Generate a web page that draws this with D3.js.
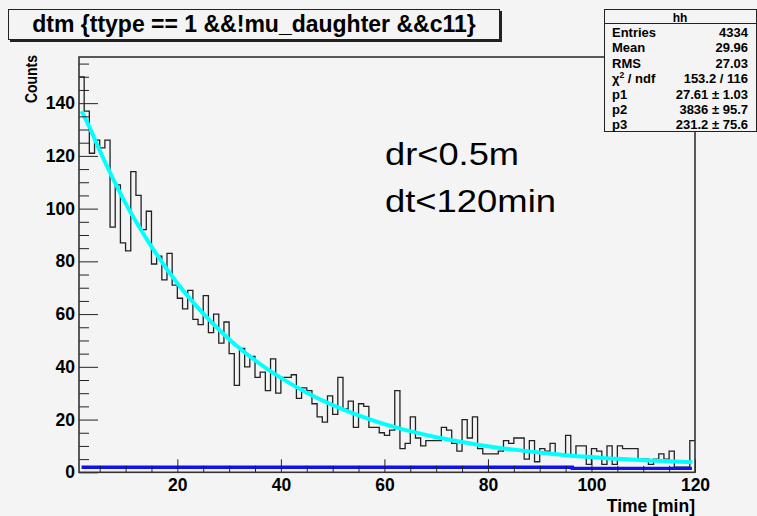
<!DOCTYPE html>
<html><head><meta charset="utf-8">
<script src="https://cdn.jsdelivr.net/npm/d3@7"></script>
<style>
html,body{margin:0;padding:0;background:#f4f4f4;}
svg{display:block;}
text{font-family:"Liberation Sans",Arial,Helvetica,sans-serif;}
</style></head><body>
<svg id="c" width="757" height="516"></svg>
<script>
// ---- data ----
const binLow = 1, binHigh = 120;
const counts = [
  150,137,121,126,123,126,93,109,87,84,114,105,92,99,79,82,73,83,71,
  66,62,69,58,56,67,53,60,49,57,45,33,47,40,44,36,38,31,
  43,30,36,36,37,28,32,31,26,21,19,29,22,36,24,27,17,26,25,17,17,15,14,16,31,9,11,21,13,10,12,12,12,17,16,11,8,20,13,
  21,9,7,7,7,8,12,11,13,13,5,12,4,9,8,11,7,7,14,6,10,10,3,9,8,3,10,3,10,9,9,9,5,5,3,5,7,5,8,2,2,2,12
];
const fitX = [1.5,3,5,7.5,10,12.5,15,20,25,30,35,40,45,50,55,60,65,70,75,80,85,90,95,100,105,110,115,119.5];
const fitY = [137,131,122,111.7,102,93.5,85.6,71.7,60.2,50.5,42.5,35.8,30.2,25.5,21.6,18.3,15.6,13.3,11.5,9.9,8.6,7.5,6.5,5.8,5.1,4.6,4.2,3.8];
const bgX = [1.5,96.3,96.3,119.4];
const bgY = [1.9,1.9,1.5,1.5];
const xMajor = [20,40,60,80,100,120];
const yMajor = [0,20,40,60,80,100,120,140];
const titleText = "dtm {ttype == 1 &&!mu_daughter &&c11}";
const statsName = "hh";
const statsLabels = ["Entries","Mean","RMS","χ2 / ndf","p1","p2","p3"];
const statsValues = ["4334","29.96","27.03","153.2 / 116","27.61 ± 1.03","3836 ± 95.7","231.2 ± 75.6"];
const xTitle = "Time [min]", yTitle = "Counts";
const notes = ["dr<0.5m","dt<120min"];

// ---- layout ----
const svg = d3.select("#c");
svg.append("rect").attr("width",757).attr("height",516).attr("fill","#f4f4f4");
const L=79, R=695, T=57, B=472.3;
const x = d3.scaleLinear().domain([binLow,binHigh]).range([L,R]);
const yMax = d3.max(counts)*1.05;
const y = d3.scaleLinear().domain([0,yMax]).range([B,T]);

svg.append("clipPath").attr("id","clip").append("rect")
  .attr("x",L).attr("y",T).attr("width",R-L).attr("height",B-T);

// histogram
const bw = (binHigh-binLow)/counts.length;
const pts = counts.map((c,i)=>[binLow+i*bw,c]);
pts.push([binHigh,counts[counts.length-1]]);
svg.append("path").datum(pts)
  .attr("d",d3.line().x(d=>x(d[0])).y(d=>y(d[1])).curve(d3.curveStepAfter))
  .attr("fill","none").attr("stroke","#222").attr("stroke-width",1.3);

// fits
const g = svg.append("g").attr("clip-path","url(#clip)");
g.append("path").datum(fitX.map((v,i)=>[v,fitY[i]]))
  .attr("d",d3.line().x(d=>x(d[0])).y(d=>y(d[1])).curve(d3.curveMonotoneX))
  .attr("fill","none").attr("stroke","#00ffff").attr("stroke-width",4);
g.append("path").datum(bgX.map((v,i)=>[v,bgY[i]]))
  .attr("d",d3.line().x(d=>x(d[0])).y(d=>y(d[1])))
  .attr("fill","none").attr("stroke","#1010f0").attr("stroke-width",3.4);

// axes
function styleAxis(sel,fs){
  sel.select(".domain").remove();
  sel.selectAll("line").attr("stroke","#222").attr("stroke-width",1);
  sel.selectAll("text").attr("font-size",fs).attr("font-weight","bold").attr("fill","#000")
    .attr("font-family","'Liberation Sans',Arial,sans-serif");
}
const xMinor = d3.range(5,binHigh+1,5).filter(v=>!xMajor.includes(v));
const yMinor = d3.range(5,yMax,5).filter(v=>!yMajor.includes(v));
svg.append("g").attr("transform",`translate(0,${B})`)
  .call(d3.axisBottom(x).tickValues(xMinor).tickSize(-6.5).tickFormat("")).call(s=>styleAxis(s,0));
svg.append("g").attr("transform",`translate(0,${B})`)
  .call(d3.axisBottom(x).tickValues(xMajor).tickSize(-13).tickPadding(6).tickFormat(d3.format("d")))
  .call(s=>styleAxis(s,17.5));
svg.append("g").attr("transform",`translate(${L},0)`)
  .call(d3.axisLeft(y).tickValues(yMinor).tickSize(-10).tickFormat("")).call(s=>styleAxis(s,0));
svg.append("g").attr("transform",`translate(${L},0)`)
  .call(d3.axisLeft(y).tickValues(yMajor).tickSize(-19).tickPadding(4).tickFormat(d3.format("d")))
  .call(s=>styleAxis(s,17.5));

// frame
svg.append("rect").attr("x",L).attr("y",T).attr("width",R-L).attr("height",B-T)
  .attr("fill","none").attr("stroke","#333").attr("stroke-width",1.6);

// axis titles
svg.append("text").attr("x",R).attr("y",512).attr("text-anchor","end")
  .attr("font-size",17.5).attr("font-weight","bold").text(xTitle);
svg.append("text").attr("transform",`translate(37,${T-2}) rotate(-90)`).attr("text-anchor","end")
  .attr("font-size",16).attr("font-weight","bold")
  .attr("textLength",48).attr("lengthAdjust","spacingAndGlyphs").text(yTitle);

// notes
svg.append("text").attr("x",385).attr("y",165).attr("font-size",32)
  .attr("textLength",134).attr("lengthAdjust","spacingAndGlyphs").text(notes[0]);
svg.append("text").attr("x",385).attr("y",212).attr("font-size",32)
  .attr("textLength",171).attr("lengthAdjust","spacingAndGlyphs").text(notes[1]);

// title box
svg.append("rect").attr("x",10).attr("y",11).attr("width",492).attr("height",31).attr("fill","#222");
svg.append("rect").attr("x",8.5).attr("y",9.5).attr("width",491).attr("height",30)
  .attr("fill","#f4f4f4").attr("stroke","#222").attr("stroke-width",1);
svg.append("text").attr("x",254).attr("y",32).attr("text-anchor","middle")
  .attr("font-size",23).attr("font-weight","bold").text(titleText);

// stats box
const sb = svg.append("g");
sb.append("rect").attr("x",604.5).attr("y",9.5).attr("width",152).attr("height",122)
  .attr("fill","#f4f4f4").attr("stroke","#222").attr("stroke-width",1);
sb.append("line").attr("x1",604.5).attr("x2",757).attr("y1",23.5).attr("y2",23.5)
  .attr("stroke","#222").attr("stroke-width",1);
sb.append("text").attr("x",680).attr("y",21.5).attr("text-anchor","middle")
  .attr("font-size",12).attr("font-weight","bold").text(statsName);
statsLabels.forEach((lab,i)=>{
  const yy = 36.9 + i*15.4;
  const t = sb.append("text").attr("x",612).attr("y",yy).attr("font-size",13).attr("font-weight","bold");
  if(lab.startsWith("χ2")){
    t.append("tspan").text("χ");
    t.append("tspan").attr("font-size",8.5).attr("dy",-5).text("2");
    t.append("tspan").attr("dy",5).text(" / ndf");
  } else t.text(lab);
  sb.append("text").attr("x",748).attr("y",yy).attr("text-anchor","end")
    .attr("font-size",13).attr("font-weight","bold").text(statsValues[i]);
});
</script>
</body></html>
